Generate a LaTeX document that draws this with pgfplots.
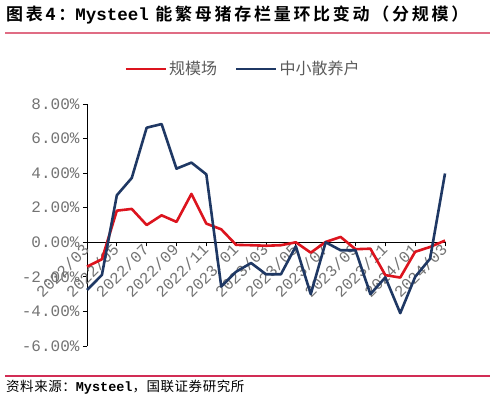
\documentclass[border=0pt]{standalone}
\usepackage{pgfplots}
\pgfplotsset{compat=1.18}
\usepackage{fontspec}
\setmainfont{Noto Sans CJK SC}
\newfontfamily\cjkb{Noto Sans CJK SC Bold}[LetterSpace=16]
\newfontfamily\cjks{Noto Sans CJK SC}[LetterSpace=4]
\newfontfamily\mono{Liberation Mono}
\newfontfamily\monob{Liberation Mono Bold}
\definecolor{redl}{RGB}{220,20,30}
\definecolor{bluel}{RGB}{31,56,100}
\definecolor{tickgrey}{RGB}{115,115,115}
\definecolor{leggrey}{RGB}{90,90,90}
\definecolor{topline}{RGB}{224,108,132}
\definecolor{botline}{RGB}{210,45,85}

\pgfplotstableread{
x scale small
0 -1.41 -2.76
1 -0.98 -1.89
2 1.83 2.72
3 1.93 3.72
4 1.00 6.63
5 1.56 6.84
6 1.18 4.26
7 2.80 4.61
8 1.08 3.93
9 0.75 -2.56
10 -0.15 -1.70
11 -0.17 -1.20
12 -0.20 -1.85
13 -0.17 -1.85
14 0.00 -0.23
15 -0.60 -3.00
16 0.02 0.00
17 0.31 -0.46
18 -0.40 -0.46
19 -0.37 -3.00
20 -1.90 -2.03
21 -2.04 -4.10
22 -0.55 -2.00
23 -0.27 -0.95
24 0.10 3.98
}\datatable

\begin{document}
\begin{tikzpicture}[x=1pt,y=1pt]
\useasboundingbox (0,0) rectangle (495,399);
\node[anchor=west, inner sep=0] at (6,384) {\fontsize{17}{17}\selectfont\cjkb 图表4：{\monob\fontsize{17.5}{17.5}\selectfont Mysteel} 能繁母猪存栏量环比变动（分规模）};
\draw[topline, line width=1.3pt] (5,366) -- (490,366);
\draw[botline, line width=1.2pt] (5,23) -- (490,23);
\node[anchor=west, inner sep=0] at (6,12) {\fontsize{13.5}{13.5}\selectfont\cjks 资料来源：{\monob Mysteel}，国联证券研究所};
\begin{axis}[
  at={(87pt,53pt)}, anchor=south west,
  scale only axis, width=358pt, height=242pt,
  xmin=0, xmax=24, ymin=-6, ymax=8,
  axis x line=middle, axis y line=left,
  x axis line style={-, black, line width=0.8pt},
  y axis line style={-, black, line width=0.8pt},
  hide obscured x ticks=false, hide obscured y ticks=false,
  xtick={0,2,...,24},
  xticklabels={2022/03,2022/05,2022/07,2022/09,2022/11,2023/01,2023/03,2023/05,2023/07,2023/09,2023/11,2024/01,2024/03},
  ytick={-6,-4,...,8},
  yticklabels={-6.00\%,-4.00\%,-2.00\%,0.00\%,2.00\%,4.00\%,6.00\%,8.00\%},
  tick align=outside, major tick length=4pt,
  tick style={black, line width=0.8pt},
  xticklabel style={rotate=45, anchor=east, font=\mono\fontsize{16}{16}\selectfont, text=tickgrey, inner sep=1pt},
  yticklabel style={font=\mono\fontsize{16}{16}\selectfont, text=tickgrey},
  clip=false,
  legend style={at={(0.436,1.145)}, anchor=center, draw=none, fill=none,
    legend columns=-1, font=\fontsize{16}{16}\selectfont, text=leggrey,
    /tikz/every even column/.append style={column sep=16pt}},
  legend image code/.code={\draw[#1] (0pt,0pt) -- (40pt,0pt);},
]
\addplot[redl, line width=2.6pt, line join=round] table[x=x, y=scale] {\datatable};
\addlegendentry{规模场}
\addplot[bluel, line width=2.6pt, line join=round] table[x=x, y=small] {\datatable};
\addlegendentry{中小散养户}
\end{axis}
\end{tikzpicture}
\end{document}
